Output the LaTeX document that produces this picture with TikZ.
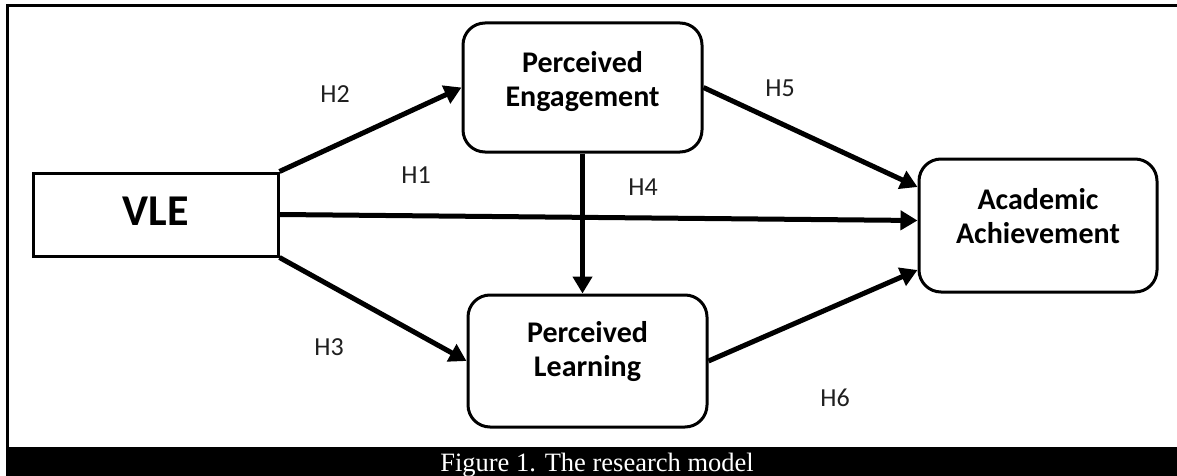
\documentclass[tikz,border=0pt]{standalone}
\usepackage{fontspec}
\setmainfont{Carlito}
\newfontfamily\capfont{Liberation Serif}
\usetikzlibrary{arrows.meta}

\tikzset{
  box/.style={draw=black, line width=3pt, fill=white, inner sep=0pt},
  roundbox/.style={box, rounded corners=22pt, minimum width=239pt, minimum height=131pt},
  boxtext/.style={align=center, font=\bfseries\fontsize{30}{34}\selectfont, inner sep=0pt},
  hyp/.style={font=\fontsize{26}{30}\selectfont, text=black!88, inner sep=0pt},
  path/.style={line width=5pt, -{Triangle[length=17pt,width=19pt]}},
  frame/.style={line width=3pt}
}

\begin{document}
\begin{tikzpicture}[x=1pt,y=-1pt]
  \useasboundingbox (0,0) rectangle (1177,476);

  % outer frame and caption band
  \draw[frame] (7,447) -- (7,6) -- (1177,6);
  \fill[black] (6,447) rectangle (1177,476);
  \node[anchor=base, text=white, inner sep=0pt,
        font=\capfont\fontsize{26.5}{30}\selectfont] (cap) at (597,471)
        {Figure 1. The research model};

  % constructs
  \node[box, minimum width=245pt, minimum height=83pt] (vle) at (155.5,214.5) {};
  \node[boxtext, font=\bfseries\fontsize{44}{48}\selectfont] (vletext)
        at ([yshift=3pt]vle.center) {VLE};

  \node[roundbox, minimum height=129pt] (pe) at (582.5,87.5) {};
  \node[boxtext] (petext) at ([yshift=6pt]pe.center) {Perceived\\Engagement};

  \node[roundbox, minimum height=132pt] (pl) at (587.5,361) {};
  \node[boxtext] (pltext) at ([yshift=9pt]pl.center) {Perceived\\Learning};

  \node[roundbox, minimum width=238pt, minimum height=133pt] (aa) at (1038,225.5) {};
  \node[boxtext] (aatext) at ([yshift=9pt]aa.center) {Academic\\Achievement};

  % hypothesised paths
  \draw[path] (vle.north east) -- (pe.west);
  \draw[path] (vle.east) -- ([yshift=5pt]aa.west);
  \draw[path] (vle.south east) -- (pl.west);
  \draw[path] (pe.south) -- (pe.south |- pl.north);
  \draw[path] (pe.east) -- ([yshift=38.5pt]aa.west);
  \draw[path] (pl.east) -- ([yshift=-44.5pt]aa.west);

  % path labels
  \node[hyp] (h2) at (335,94) {H2};
  \node[hyp] (h1) at (416,175) {H1};
  \node[hyp] (h4) at (643,187) {H4};
  \node[hyp] (h5) at (780,88) {H5};
  \node[hyp] (h3) at (329,347) {H3};
  \node[hyp] (h6) at (835,398) {H6};
\end{tikzpicture}
\end{document}
